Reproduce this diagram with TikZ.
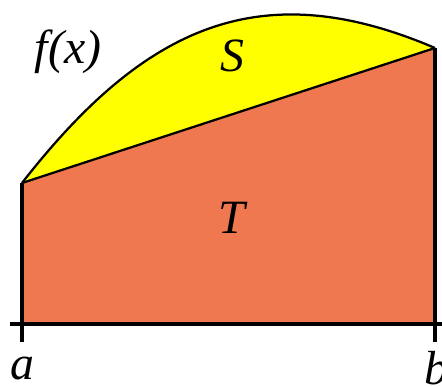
\documentclass[tikz,border=0pt]{standalone}
\usepackage{xcolor}
\usepackage{fontspec}
\setmainfont{Liberation Serif}
\usepackage{tikz}
\usetikzlibrary{positioning,calc}
\definecolor{trap}{HTML}{EF7850}
\definecolor{seg}{HTML}{FFFF00}
\definecolor{dark}{HTML}{000000}
\tikzset{
    curve/.style={draw=dark, line width=1.6pt},
    chord/.style={draw=dark, line width=1.6pt},
    axis/.style={draw=dark, line width=2.2pt},
    bound/.style={draw=dark, line width=3pt},
    lbl/.style={font=\fontsize{34}{40}\selectfont\itshape, inner sep=0pt}
}

\begin{document}
\begin{tikzpicture}[x=0.025cm, y=-0.025cm]
    \useasboundingbox (0,0) rectangle (442,387);
    \coordinate (fa) at (22,183);
    \coordinate (fb) at (435,48);
    \coordinate (a) at (22,324);
    \coordinate (b) at (435,324);
    \fill[trap] (a) -- (fa) -- (fb) -- (b) -- cycle;
    \fill[seg] (fa) .. controls (146,24) and (262,-26) .. (fb) -- cycle;
    \draw[curve] (fa) .. controls (146,24) and (262,-26) .. (fb);
    \draw[chord] (fa) -- (fb);
    \draw[axis] (10,324) coordinate (ax0) -- (442,324) coordinate (ax1);
    \draw[bound] (fa) -- ($(a)+(0,18)$);
    \draw[bound] (fb) -- ($(b)+(0,18)$);
    \node[lbl] (fx) at (68,52) {f(x)};
    \node[lbl] (S) at (232,56) {S};
    \node[lbl] (T) at (232,218) {T};
    \node[lbl] (la) at (22,368) {a};
    \node[lbl] (lb) at (436,368) {b};
\end{tikzpicture}
\end{document}
